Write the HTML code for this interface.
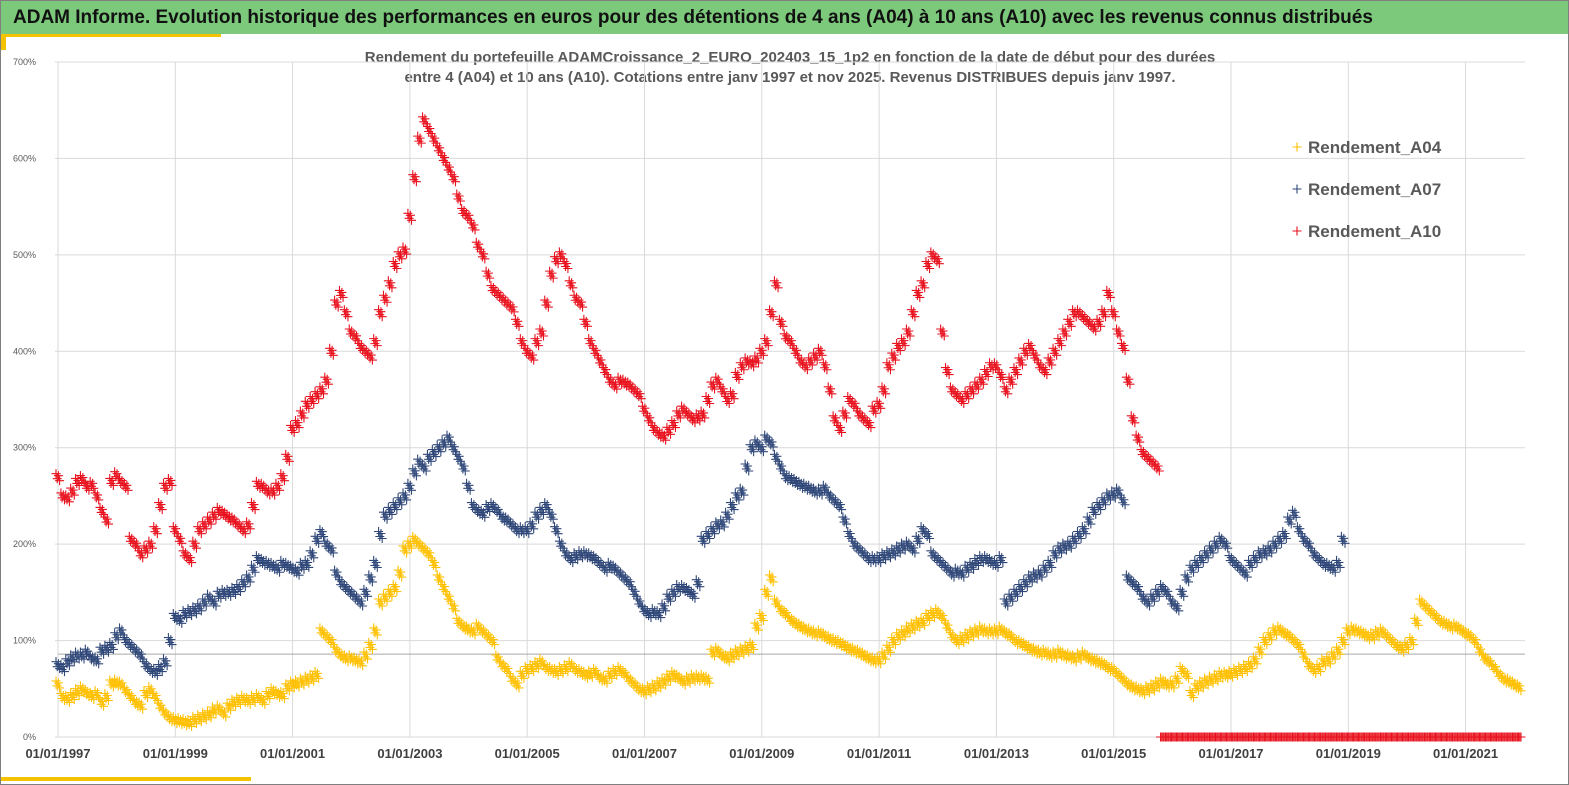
<!DOCTYPE html>
<html><head><meta charset="utf-8">
<style>
body{margin:0;width:1569px;height:785px;overflow:hidden;background:#fff;font-family:"Liberation Sans",sans-serif;}
#frame{position:absolute;left:0;top:0;width:1567px;height:783px;border:1px solid #7f7f7f;}
#hdr{position:absolute;left:1px;top:1px;width:1567px;height:33px;background:#7cc97c;}
#hdr span{position:absolute;left:12px;top:6px;font-size:19px;font-weight:bold;color:#111;white-space:nowrap;}
</style></head><body>
<div id="frame"></div>
<div id="hdr"><span>ADAM Informe. Evolution historique des performances en euros pour des détentions de 4 ans (A04) à 10 ans (A10) avec les revenus connus distribués</span></div>
<svg id="chart" width="1569" height="785" style="position:absolute;left:0;top:0">
<rect x="1" y="34" width="220" height="3" fill="#f5c200"/>
<rect x="1" y="34" width="5" height="16" fill="#f5c200"/>
<rect x="1" y="777" width="250" height="4" fill="#f5c200"/>
<text x="790" y="62" text-anchor="middle" font-size="15" font-weight="bold" fill="#595959">Rendement du portefeuille ADAMCroissance_2_EURO_202403_15_1p2  en fonction de la date de début pour des durées</text>
<text x="790" y="82" text-anchor="middle" font-size="15" font-weight="bold" fill="#595959">entre 4 (A04) et 10 ans (A10). Cotations  entre janv 1997 et nov 2025. Revenus DISTRIBUES depuis janv 1997.</text>
<g id="grid"></g><g id="marks"></g><g id="legend"></g>
</svg>
<script>
const yTicks=[0,100,200,300,400,500,600,700];
const xTickLabels=["01/01/1997","01/01/1999","01/01/2001","01/01/2003","01/01/2005","01/01/2007","01/01/2009","01/01/2011","01/01/2013","01/01/2015","01/01/2017","01/01/2019","01/01/2021"];
const startYear=1997;
const refLine=86;
const seriesNames=["Rendement_A04","Rendement_A07","Rendement_A10"];
const a04=[55,42,40,43,47,50,46,43,45,36,42,56,
57,55,48,42,36,33,45,49,42,32,25,20,
18,17,16,15,18,20,22,24,28,30,25,32,
36,38,40,38,40,42,38,44,48,45,44,52,
55,56,58,60,62,65,110,105,100,90,85,82,
82,80,78,85,95,110,140,145,150,155,170,195,
200,205,200,195,190,180,165,155,145,135,120,115,
112,110,115,110,105,100,82,75,70,60,55,65,
70,72,75,78,72,70,68,70,72,75,70,68,
65,66,68,62,60,65,68,70,66,60,55,50,
48,50,52,55,58,62,65,62,58,60,62,62,
62,60,88,90,85,82,85,88,90,92,95,115,
125,150,165,140,132,128,122,118,115,112,110,108,
108,105,102,100,98,95,92,90,88,85,82,80,
80,85,92,100,105,108,112,115,118,120,125,128,
130,125,115,105,100,102,105,108,110,112,110,110,
110,112,108,105,100,98,95,92,90,88,88,86,
86,88,85,84,82,84,86,82,80,78,76,72,
70,65,60,55,52,50,48,50,52,55,58,55,
55,60,70,65,45,52,55,58,60,62,65,65,
66,68,70,72,75,80,90,100,105,110,112,108,
105,100,95,85,75,70,72,78,80,85,90,100,
110,112,110,108,105,105,108,110,105,100,95,92,
95,100,120,140,135,130,125,120,118,115,115,112,
108,105,100,90,82,78,72,65,60,58,55,52];
const a07=[75,72,78,82,85,85,88,82,80,90,92,95,
105,110,100,95,90,85,75,70,68,72,78,100,
125,122,128,130,132,135,140,145,140,148,150,150,
152,155,160,165,175,185,182,180,178,175,180,178,
175,172,178,180,190,205,212,200,195,170,160,155,
150,145,140,150,165,180,210,230,235,240,245,250,
260,275,285,280,290,295,300,305,310,300,290,280,
260,240,235,232,238,240,235,228,225,220,215,215,
215,220,230,235,240,230,215,200,190,185,188,190,
190,188,185,180,175,178,175,170,165,160,150,140,
132,128,130,128,135,145,150,155,155,152,148,160,
205,210,215,220,222,230,240,250,255,280,300,305,
300,310,305,290,280,270,268,265,262,260,258,255,
255,258,250,245,240,225,210,200,195,190,185,185,
185,188,190,192,195,198,200,195,205,215,210,190,
185,180,175,170,172,170,175,178,182,185,185,182,
180,185,140,145,150,155,160,165,168,170,175,180,
190,195,198,200,205,210,215,225,235,240,245,250,
252,255,245,165,160,155,145,140,145,150,155,150,
140,135,150,165,175,180,185,190,195,200,205,200,
185,180,175,170,180,185,190,192,195,200,205,210,
225,232,215,205,200,190,185,180,178,175,180,205];
const a10=[270,250,248,255,265,268,260,262,250,235,225,265,
272,265,260,205,200,190,195,200,215,240,260,265,
215,205,190,185,200,215,220,225,230,235,232,228,
225,220,215,220,240,262,260,255,255,260,270,290,
320,325,335,345,350,355,360,370,400,450,460,440,
420,415,405,400,395,410,440,455,470,490,500,505,
540,580,620,640,630,620,610,600,590,580,560,545,
540,530,510,500,480,465,460,455,450,445,430,410,
400,395,410,420,450,480,495,500,490,470,455,450,
430,410,400,390,380,370,365,370,368,365,360,355,
340,330,320,315,312,318,325,335,340,335,330,332,
335,350,365,370,360,350,355,375,385,390,388,392,
400,410,440,470,430,415,410,400,390,385,390,395,
400,385,360,330,320,335,350,345,335,330,325,340,
345,360,385,395,405,410,420,440,460,470,490,500,
495,420,380,360,355,350,355,360,365,370,378,385,
385,375,360,370,380,390,400,405,395,385,380,390,
400,410,420,430,440,440,435,430,425,430,440,460,
440,420,405,370,330,310,295,290,285,280,
0,0,
0,0,0,0,0,0,0,0,0,0,0,0,
0,0,0,0,0,0,0,0,0,0,0,0,
0,0,0,0,0,0,0,0,0,0,0,0,
0,0,0,0,0,0,0,0,0,0,0,0,
0,0,0,0,0,0,0,0,0,0,0,0,
0,0,0,0,0,0,0,0,0,0,0,0];
const colors=["#ffc000","#2f4778","#e8101c"];
const NS="http://www.w3.org/2000/svg";
const X0=58,PXY=58.65,Y0=737,PXP=0.9643,XR=1525;
function xs(monthIdx){return X0+PXY*(monthIdx/12);}
function xy(year){return X0+PXY*(year-startYear);}
function ys(v){return Y0-v*PXP;}
function mk(tag,attrs,parent){const e=document.createElementNS(NS,tag);for(const k in attrs)e.setAttribute(k,attrs[k]);parent.appendChild(e);return e;}
const grid=document.getElementById('grid');
yTicks.forEach(t=>{
  const l=mk('line',{x1:X0-3,x2:XR,y1:ys(t),y2:ys(t),stroke:'#d9d9d9','stroke-width':1},grid);
  
  
  const tx=mk('text',{x:X0-22,y:ys(t)+3,'text-anchor':'end','font-size':9,fill:'#595959'},grid);
  tx.textContent=t+'%';
  
  
});
xTickLabels.forEach(s=>{
  const yr=+s.slice(6);
  const l=mk('line',{x1:xy(yr),x2:xy(yr),y1:ys(700),y2:Y0,stroke:'#d9d9d9','stroke-width':1},grid);
  
  
  const tx=mk('text',{x:xy(yr),y:758,'text-anchor':'middle','font-size':13,'font-weight':'bold',fill:'#404040'},grid);
  tx.textContent=s;
  
  
});
const rl=mk('line',{x1:X0,x2:XR,y1:ys(refLine),y2:ys(refLine),stroke:'#a6a6a6','stroke-width':1},grid);


const marks=document.getElementById('marks');
const offs=[[-2,-3],[-0.8,2],[0.4,-1],[1.6,4]];
function plus(x,y,c,g){mk('path',{d:`M${x-4.5} ${y}h9M${x} ${y-4.5}v9`,stroke:c,'stroke-width':1.1,fill:'none'},g);}
[a10,a07,a04].forEach((arr,si)=>{
  const c=colors[2-si];
  const g=mk('g',{},marks);
  
  
  arr.forEach((v,i)=>{
    const x=xs(i),y=ys(v);
    offs.forEach(o=>plus(x+o[0],y+(v===0?0:o[1]),c,g));
  });
});
const lg=document.getElementById('legend');
seriesNames.forEach((n,i)=>{
  const y=147+i*42;
  const g=mk('g',{},lg);
  
  
  plus(1297,y,colors[i],g);
  const t=mk('text',{x:1308,y:y+6,'font-size':17,'font-weight':'bold',fill:'#595959'},g);
  t.textContent=n;
});
</script>
</body></html>
